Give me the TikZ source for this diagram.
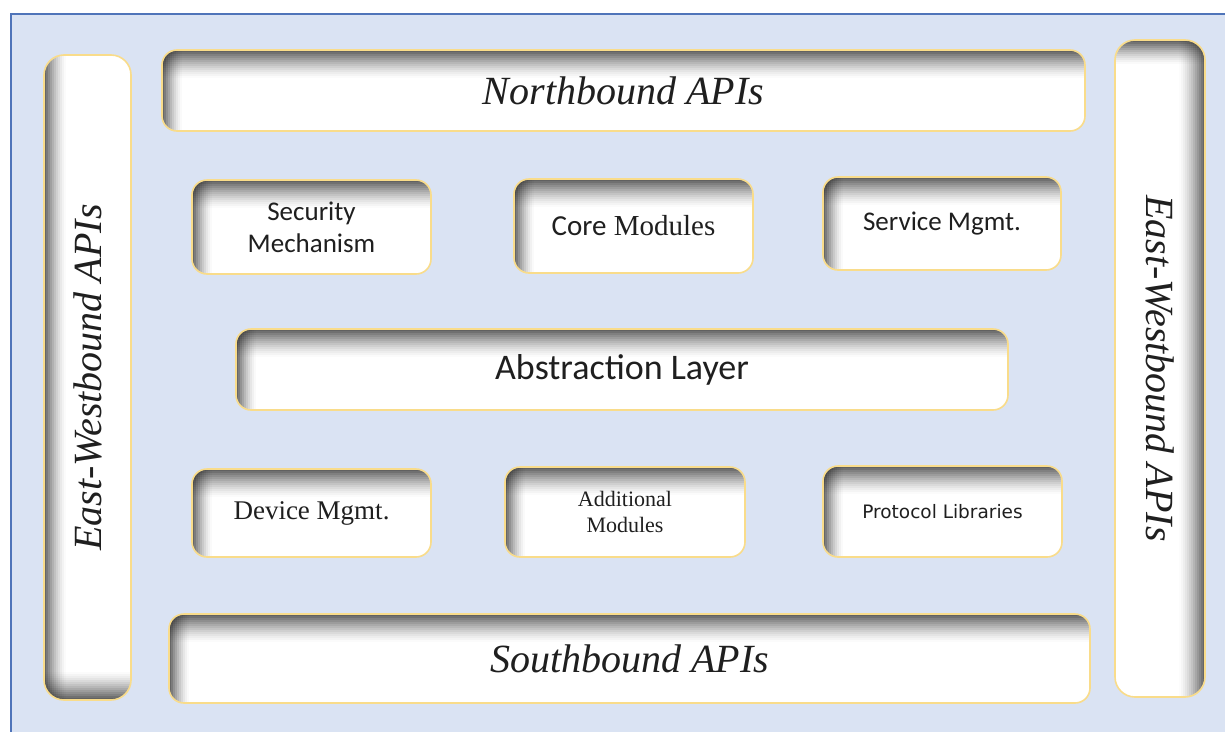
\documentclass[tikz,border=0pt]{standalone}
\usepackage{fontspec}
\setmainfont{Liberation Serif}
\newfontfamily\calibfont{Carlito}
\newfontfamily\tahfont{DejaVu Sans}

\definecolor{bgblue}{HTML}{DAE3F3}
\definecolor{frameblue}{HTML}{4F74B9}
\definecolor{rimgold}{HTML}{F9DC8A}

% inner shadows built from thin strips whose opacity falls off away from the edge
\tikzset{strip/.style={black, sharp corners, draw=none, opacity=#1}}
\newcommand{\shadetopedge}[1]{%
  \foreach \i [evaluate=\i as \op using {0.62*(1-\i/#1)^1.4}] in {0,...,\numexpr#1-1\relax}
    \fill[strip=\op] ([shift={(0,-2*\i)}]path picture bounding box.north west)
      rectangle ([shift={(0,-2*\i-2)}]path picture bounding box.north east);}
\newcommand{\shadebottomedge}[1]{%
  \foreach \i [evaluate=\i as \op using {0.62*(1-\i/#1)^1.4}] in {0,...,\numexpr#1-1\relax}
    \fill[strip=\op] ([shift={(0,2*\i)}]path picture bounding box.south west)
      rectangle ([shift={(0,2*\i+2)}]path picture bounding box.south east);}
\newcommand{\shadeleftedge}[1]{%
  \foreach \i [evaluate=\i as \op using {0.6*(1-\i/#1)^1.5}] in {0,...,\numexpr#1-1\relax}
    \fill[strip=\op] ([shift={(2*\i,0)}]path picture bounding box.north west)
      rectangle ([shift={(2*\i+2,0)}]path picture bounding box.south west);}
\newcommand{\shaderightedge}[1]{%
  \foreach \i [evaluate=\i as \op using {0.6*(1-\i/#1)^1.5}] in {0,...,\numexpr#1-1\relax}
    \fill[strip=\op] ([shift={(-2*\i,0)}]path picture bounding box.north east)
      rectangle ([shift={(-2*\i-2,0)}]path picture bounding box.south east);}

\tikzset{
  panel/.style={draw=rimgold, line width=1.6pt, fill=white, rounded corners=15pt,
    inner sep=0pt, align=center, text=black!88},
  inset tl/.style={path picture={\shadetopedge{14}\shadeleftedge{10}}},
  inset lb/.style={path picture={\shadebottomedge{14}\shadeleftedge{11}}},
  inset tr/.style={path picture={\shadetopedge{12}\shaderightedge{13}}},
  apifont/.style={font=\fontsize{40}{46}\selectfont\itshape},
}

\begin{document}
\begin{tikzpicture}[x=1pt, y=1pt]
  \useasboundingbox (0,0) rectangle (1225,-731);

  % outer frame
  \path[fill=bgblue, draw=frameblue, line width=2pt] (11,-14) rectangle (1240,-746);

  % side API columns
  \node[panel, inset lb, rounded corners=20pt, minimum width=87pt, minimum height=645pt] (ewl) at (87.5,-377.5)
    {\rotatebox{90}{\fontsize{40}{46}\selectfont\itshape East-Westbound APIs}};
  \node[panel, inset tr, rounded corners=20pt, minimum width=90pt, minimum height=657pt] (ewr) at (1160,-368.5)
    {\rotatebox{-90}{\fontsize{40}{46}\selectfont\itshape East-Westbound APIs}};

  % top and bottom API bars
  \node[panel, inset tl, apifont, minimum width=923pt, minimum height=81pt] (north) at (623.5,-90.5)
    {Northbound APIs};
  \node[panel, inset tl, apifont, minimum width=921pt, minimum height=89pt] (south) at (629.5,-658.5)
    {Southbound APIs};

  % upper module row
  \node[panel, inset tl, minimum width=239pt, minimum height=94pt,
        font=\calibfont\fontsize{27}{32}\selectfont] (sec) at (311.5,-227)
    {Security\\Mechanism};
  \node[panel, inset tl, minimum width=239pt, minimum height=94pt,
        font=\fontsize{29}{34}\selectfont] (core) at (633.5,-226)
    {{\calibfont Core} Modules};
  \node[panel, inset tl, minimum width=238pt, minimum height=93pt,
        font=\calibfont\fontsize{27}{32}\selectfont] (serv) at (942,-223.5)
    {Service Mgmt.};

  % abstraction layer
  \node[panel, inset tl, minimum width=772pt, minimum height=81pt,
        font=\calibfont\fontsize{36}{42}\selectfont] (abs) at (622,-369.5)
    {Abstraction Layer};

  % lower module row
  \node[panel, inset tl, minimum width=239pt, minimum height=88pt,
        font=\fontsize{27}{32}\selectfont] (dev) at (311.5,-513)
    {Device Mgmt.};
  \node[panel, inset tl, minimum width=240pt, minimum height=90pt,
        font=\fontsize{22}{26}\selectfont] (addm) at (625,-512)
    {Additional\\Modules};
  \node[panel, inset tl, minimum width=239pt, minimum height=91pt,
        font=\tahfont\fontsize{18.5}{22}\selectfont] (prot) at (942.5,-511.5)
    {Protocol Libraries};
\end{tikzpicture}
\end{document}
